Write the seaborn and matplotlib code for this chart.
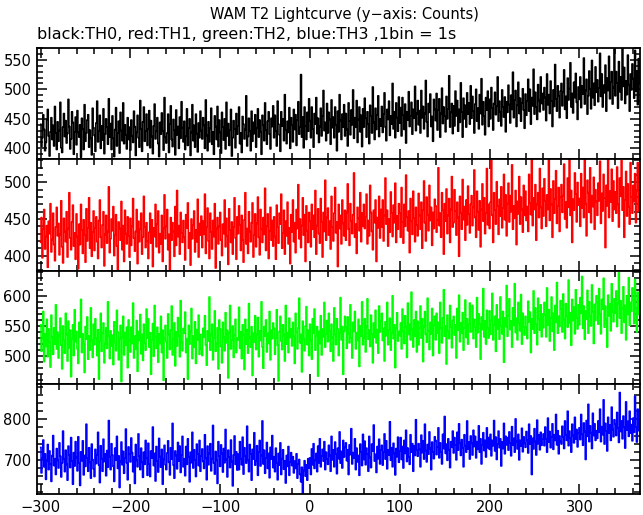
import numpy as np
import pandas as pd
import matplotlib
matplotlib.use("Agg")
import matplotlib.pyplot as plt
from matplotlib.ticker import MultipleLocator
import seaborn as sns

# ---- data (counts per 1 s bin, starting at t = -300 s) ----
t_start = -300
bin_s = 1

th0 = [
441, 403, 418, 457, 432, 396, 410, 449, 466, 421, 387, 428, 452, 415, 439, 404, 471, 426, 398, 445,
412, 430, 478, 401, 393, 436, 459, 420, 447, 409, 425, 483, 437, 399, 416, 462, 444, 390, 428, 453,
406, 464, 427, 419, 440, 385, 451, 433, 398, 474, 412, 426, 448, 457, 402, 431, 417, 389, 468, 435,
422, 395, 443, 480, 411, 429, 456, 400, 438, 414, 467, 391, 424, 450, 436, 407, 484, 419, 442, 398,
455, 417, 386, 432, 469, 404, 426, 446, 392, 461, 430, 413, 477, 408, 440, 423, 399, 452, 415, 436,
397, 448, 421, 410, 463, 437, 388, 427, 456, 418, 402, 481, 433, 395, 445, 470, 412, 429, 458, 405,
433, 464, 401, 447, 420, 391, 438, 475, 416, 429, 452, 408, 386, 444, 424, 460, 430, 397, 486, 419,
409, 426, 458, 393, 441, 472, 415, 403, 449, 431, 389, 465, 423, 437, 400, 453, 417, 479, 435, 411,
446, 398, 421, 467, 405, 434, 450, 388, 427, 474, 413, 439, 402, 458, 425, 394, 443, 418, 463, 430,
416, 452, 439, 400, 482, 422, 396, 445, 411, 434, 468, 407, 428, 390, 455, 437, 415, 471, 403, 448,
427, 392, 461, 436, 414, 450, 399, 478, 421, 442, 405, 431, 466, 387, 418, 447, 433, 401, 459, 424,
438, 470, 408, 426, 393, 454, 441, 416, 432, 489, 404, 420, 451, 429, 396, 463, 412, 444, 425, 457,
402, 435, 467, 419, 448, 428, 390, 456, 439, 413, 477, 431, 407, 446, 462, 424, 399, 451, 437, 472,
418, 456, 429, 404, 480, 441, 423, 395, 462, 438, 450, 413, 491, 431, 408, 446, 427, 469, 400, 452,
440, 411, 466, 432, 457, 405, 448, 479, 424, 436, 525, 419, 453, 401, 470, 438, 415, 461, 429, 484,
447, 418, 470, 433, 402, 459, 441, 486, 425, 451, 410, 437, 468, 421, 455, 498, 430, 444, 413, 476,
426, 461, 449, 407, 482, 435, 453, 418, 470, 440, 396, 463, 428, 491, 447, 415, 458, 436, 474, 421,
459, 432, 404, 477, 446, 423, 465, 440, 499, 417, 452, 436, 481, 410, 449, 470, 428, 456, 403, 467,
436, 485, 451, 419, 462, 441, 408, 473, 455, 426, 504, 444, 415, 468, 432, 457, 489, 420, 450, 438,
471, 427, 458, 494, 436, 413, 466, 449, 480, 422, 455, 441, 510, 433, 462, 418, 477, 452, 429, 487,
443, 469, 421, 486, 456, 432, 475, 409, 462, 448, 496, 437, 455, 478, 424, 466, 451, 505, 430, 459,
481, 440, 464, 426, 498, 452, 471, 433, 459, 515, 445, 420, 476, 461, 492, 437, 454, 412, 483, 466,
447, 493, 431, 465, 484, 419, 459, 502, 442, 470, 455, 428, 488, 450, 467, 523, 436, 461, 476, 425,
472, 438, 497, 455, 481, 429, 466, 444, 511, 462, 419, 485, 450, 473, 436, 494, 458, 477, 441, 506,
451, 488, 463, 426, 475, 500, 446, 468, 433, 491, 459, 518, 440, 479, 455, 423, 486, 465, 497, 437,
483, 450, 503, 468, 431, 476, 495, 457, 472, 521, 446, 480, 462, 438, 499, 470, 453, 487, 428, 479,
461, 507, 474, 443, 490, 466, 529, 452, 482, 498, 437, 473, 512, 459, 485, 446, 477, 501, 465, 434,
492, 456, 480, 517, 463, 500, 441, 486, 472, 534, 458, 495, 470, 449, 508, 481, 462, 521, 476, 493,
465, 503, 486, 447, 526, 474, 491, 459, 514, 480, 437, 499, 471, 542, 484, 463, 506, 489, 452, 497,
510, 472, 495, 533, 466, 488, 451, 519, 482, 501, 545, 470, 493, 460, 512, 486, 527, 478, 449, 504,
483, 521, 469, 506, 492, 553, 475, 498, 517, 458, 489, 531, 501, 467, 549, 486, 510, 473, 538, 495,
516, 479, 502, 561, 488, 526, 470, 507, 494, 541, 463, 519, 498, 556, 484, 512, 530, 475, 503, 568,
489, 530, 511, 468, 547, 496, 521, 482, 572, 505, 537, 476, 514, 491, 558, 508, 463, 526, 499, 543,
518, 485, 566, 497, 531, 474, 552, 509,
]

th1 = [
418, 452, 397, 436, 463, 409, 426, 441, 384, 447, 430, 471, 405, 422, 458, 415, 393, 439, 466, 427,
444, 401, 429, 475, 412, 390, 451, 433, 419, 460, 398, 437, 486, 424, 408, 446, 469, 413, 431, 395,
457, 426, 382, 443, 415, 470, 435, 403, 449, 428, 391, 464, 420, 438, 479, 410, 445, 399, 432, 461,
407, 438, 453, 419, 396, 448, 476, 425, 411, 442, 460, 386, 429, 455, 417, 433, 494, 404, 423, 450,
434, 467, 400, 428, 456, 413, 381, 446, 437, 421, 474, 408, 441, 392, 462, 430, 416, 453, 427, 398,
451, 414, 440, 478, 424, 406, 433, 463, 389, 447, 419, 436, 458, 402, 425, 481, 439, 411, 445, 420,
396, 432, 458, 417, 449, 385, 438, 426, 470, 412, 443, 461, 404, 430, 416, 455, 392, 437, 483, 423,
440, 463, 408, 429, 379, 452, 421, 445, 433, 399, 467, 414, 489, 426, 441, 402, 459, 431, 418, 448,
425, 394, 456, 438, 472, 410, 431, 387, 450, 423, 442, 461, 405, 435, 419, 477, 398, 444, 428, 454,
411, 447, 429, 484, 403, 439, 465, 420, 396, 458, 432, 409, 448, 426, 471, 383, 437, 452, 416, 440,
459, 421, 400, 443, 430, 476, 412, 451, 427, 388, 464, 435, 418, 446, 402, 439, 479, 424, 395, 453,
430, 468, 442, 407, 455, 421, 391, 449, 486, 416, 437, 403, 460, 433, 419, 445, 472, 398, 428, 457,
412, 444, 480, 425, 401, 463, 436, 418, 452, 429, 492, 407, 440, 457, 396, 434, 466, 421, 448, 413,
453, 426, 395, 469, 439, 417, 458, 443, 484, 410, 431, 462, 402, 447, 427, 473, 416, 438, 389, 456,
432, 476, 419, 445, 404, 463, 437, 497, 423, 450, 411, 441, 479, 428, 456, 392, 468, 434, 418, 459,
447, 412, 470, 436, 455, 425, 489, 402, 441, 464, 430, 417, 478, 446, 398, 459, 433, 503, 421, 452,
465, 428, 447, 409, 481, 439, 420, 458, 493, 431, 446, 385, 470, 437, 455, 416, 476, 444, 427, 462,
421, 459, 498, 436, 414, 471, 447, 430, 456, 513, 425, 443, 403, 466, 451, 434, 486, 419, 458, 440,
470, 437, 453, 484, 416, 448, 427, 496, 459, 433, 408, 462, 445, 476, 392, 452, 438, 481, 424, 463,
439, 476, 420, 455, 506, 443, 462, 413, 450, 432, 487, 458, 426, 469, 445, 499, 418, 454, 436, 471,
458, 425, 493, 446, 417, 470, 440, 510, 453, 434, 461, 404, 478, 447, 429, 488, 451, 419, 466, 442,
427, 485, 455, 436, 473, 410, 462, 502, 445, 420, 480, 456, 434, 496, 448, 466, 414, 459, 437, 477,
468, 432, 449, 520, 441, 458, 425, 486, 462, 402, 471, 447, 491, 430, 455, 478, 418, 463, 508, 439,
445, 490, 461, 428, 473, 452, 399, 481, 458, 436, 504, 449, 467, 421, 476, 442, 495, 457, 431, 470,
482, 441, 466, 517, 452, 425, 488, 460, 435, 475, 412, 463, 498, 447, 479, 430, 458, 519, 442, 470,
437, 473, 530, 455, 418, 486, 462, 443, 501, 468, 429, 477, 454, 494, 438, 465, 511, 449, 483, 427,
471, 499, 446, 482, 460, 524, 436, 468, 451, 489, 415, 474, 457, 508, 443, 480, 463, 432, 496, 455,
488, 448, 467, 433, 511, 472, 456, 533, 441, 479, 463, 497, 421, 470, 486, 452, 519, 466, 437, 492,
454, 505, 475, 440, 483, 463, 531, 448, 491, 470, 425, 502, 458, 477, 516, 444, 468, 493, 433, 480,
497, 459, 482, 525, 450, 473, 438, 506, 466, 534, 455, 489, 418, 477, 462, 513, 484, 446, 500, 469,
478, 440, 512, 465, 493, 452, 536, 471, 427, 503, 486, 459, 520, 445, 482, 467, 507, 436, 490, 474,
455, 499, 475, 529, 444, 485, 461, 511, 479, 411, 496, 468, 535, 452, 488, 473, 518, 447, 502, 463,
487, 458, 521, 470, 439, 506, 481, 530, 462, 494, 425, 476, 515, 454, 498, 467, 443, 527, 480, 458,
496, 474, 512, 445, 489, 527, 461, 483,
]

th2 = [
552, 508, 529, 574, 491, 537, 516, 561, 499, 545, 523, 482, 568, 531, 503, 547, 520, 585, 512, 540,
497, 534, 563, 518, 479, 550, 527, 505, 571, 536, 492, 558, 514, 543, 466, 529, 552, 501, 577, 524,
541, 512, 488, 556, 532, 594, 506, 537, 520, 473, 549, 528, 565, 495, 533, 510, 580, 526, 498, 553,
519, 562, 530, 501, 544, 462, 525, 571, 508, 538, 555, 489, 521, 547, 513, 590, 534, 496, 542, 517,
535, 486, 557, 523, 509, 576, 540, 494, 529, 551, 458, 531, 566, 502, 539, 518, 548, 481, 560, 526,
507, 548, 521, 588, 497, 533, 512, 559, 475, 541, 526, 569, 504, 536, 493, 553, 522, 510, 578, 530,
562, 515, 539, 470, 527, 554, 500, 584, 532, 513, 548, 490, 537, 521, 566, 506, 543, 460, 529, 551,
524, 497, 570, 536, 511, 543, 583, 502, 528, 555, 484, 540, 517, 564, 534, 499, 592, 523, 509, 546,
538, 573, 506, 529, 462, 551, 520, 541, 579, 496, 533, 515, 557, 488, 544, 527, 568, 503, 536, 512,
501, 546, 532, 567, 518, 485, 542, 525, 598, 510, 536, 553, 494, 530, 575, 508, 521, 547, 479, 560,
545, 516, 489, 556, 531, 509, 572, 522, 543, 464, 538, 584, 512, 527, 550, 498, 535, 561, 506, 530,
527, 581, 513, 540, 496, 552, 535, 478, 561, 520, 544, 505, 587, 531, 515, 549, 468, 538, 523, 567,
511, 536, 564, 499, 542, 526, 590, 515, 480, 549, 533, 560, 507, 538, 521, 574, 494, 543, 529, 555,
546, 503, 530, 577, 518, 459, 541, 566, 525, 511, 552, 536, 492, 584, 520, 539, 506, 563, 531, 545,
517, 556, 533, 488, 571, 540, 512, 547, 596, 522, 536, 474, 558, 529, 509, 550, 582, 519, 543, 501,
553, 526, 495, 562, 538, 578, 510, 534, 549, 467, 541, 521, 567, 502, 545, 532, 589, 515, 537, 559,
524, 571, 542, 508, 553, 531, 492, 580, 536, 519, 562, 545, 501, 538, 597, 527, 549, 470, 541, 566,
548, 513, 565, 537, 522, 585, 530, 497, 556, 541, 574, 512, 539, 526, 561, 483, 550, 533, 590, 519,
530, 562, 507, 549, 595, 528, 543, 516, 568, 537, 489, 555, 531, 576, 522, 544, 505, 583, 540, 558,
571, 526, 546, 492, 557, 534, 589, 519, 543, 563, 510, 538, 600, 529, 552, 481, 547, 572, 525, 541,
534, 555, 512, 578, 541, 521, 567, 549, 498, 588, 536, 553, 527, 606, 544, 515, 560, 533, 574, 507,
558, 519, 547, 583, 530, 562, 491, 549, 574, 536, 523, 596, 542, 511, 556, 537, 579, 501, 551, 566,
527, 571, 538, 556, 505, 589, 546, 522, 563, 610, 533, 550, 487, 568, 541, 529, 584, 548, 514, 559,
566, 535, 552, 497, 579, 543, 601, 524, 555, 538, 572, 510, 547, 593, 531, 562, 520, 553, 588, 540,
542, 584, 529, 561, 548, 515, 597, 539, 570, 553, 495, 565, 544, 612, 532, 558, 520, 576, 547, 530,
575, 536, 559, 604, 527, 552, 566, 508, 585, 545, 561, 528, 598, 550, 537, 574, 490, 563, 549, 617,
533, 567, 595, 544, 558, 515, 580, 551, 620, 539, 563, 527, 589, 555, 542, 602, 520, 571, 548, 535,
566, 548, 529, 591, 557, 573, 506, 562, 545, 608, 538, 580, 553, 519, 596, 561, 543, 585, 532, 570,
547, 589, 568, 532, 613, 552, 577, 525, 563, 598, 541, 571, 510, 584, 556, 622, 538, 566, 549, 592,
578, 540, 603, 561, 529, 587, 566, 548, 626, 555, 572, 518, 594, 559, 581, 537, 610, 563, 545, 585,
552, 597, 571, 632, 546, 583, 528, 575, 561, 609, 538, 590, 566, 550, 618, 573, 521, 586, 559, 600,
589, 553, 612, 570, 537, 594, 578, 629, 548, 583, 561, 515, 601, 567, 586, 542, 620, 574, 557, 595,
571, 608, 549, 587, 638, 563, 592, 538, 579, 615, 556, 584, 527, 600, 569, 630, 551, 589, 574, 613,
593, 554, 627, 578, 540, 606, 569, 598,
]

th3 = [
731, 668, 704, 749, 683, 715, 652, 697, 738, 676, 722, 690, 647, 711, 760, 686, 703, 664, 728, 699,
680, 742, 709, 658, 693, 771, 702, 671, 724, 689, 650, 734, 712, 681, 755, 697, 640, 718, 685, 745,
706, 673, 757, 692, 637, 720, 698, 747, 663, 711, 684, 788, 705, 672, 730, 694, 655, 739, 701, 678,
659, 726, 691, 713, 768, 687, 644, 735, 703, 672, 751, 696, 715, 661, 723, 682, 797, 708, 676, 740,
712, 684, 647, 729, 700, 758, 679, 710, 632, 696, 744, 688, 721, 667, 705, 776, 693, 651, 732, 714,
695, 754, 718, 671, 707, 642, 738, 699, 683, 764, 710, 676, 729, 694, 657, 719, 689, 748, 704, 662,
741, 690, 659, 722, 705, 781, 686, 716, 648, 733, 697, 670, 753, 708, 682, 726, 640, 701, 736, 688,
676, 717, 747, 694, 663, 730, 702, 790, 687, 655, 722, 711, 678, 743, 697, 734, 669, 712, 758, 683,
703, 661, 733, 689, 752, 708, 646, 719, 693, 768, 680, 725, 700, 659, 739, 715, 686, 748, 672, 709,
727, 696, 679, 762, 704, 651, 734, 688, 716, 740, 673, 703, 785, 692, 665, 721, 699, 642, 745, 710,
684, 737, 716, 670, 728, 693, 775, 701, 658, 724, 707, 681, 749, 696, 636, 712, 759, 689, 720, 675,
714, 676, 745, 703, 688, 756, 665, 730, 709, 692, 783, 699, 671, 738, 715, 650, 726, 702, 767, 687,
698, 735, 662, 719, 748, 685, 711, 796, 690, 724, 667, 705, 743, 679, 716, 656, 731, 702, 760, 681,
708, 671, 729, 693, 651, 716, 687, 742, 664, 703, 725, 677, 698, 643, 711, 684, 733, 662, 695, 718,
686, 708, 668, 697, 679, 715, 655, 690, 701, 664, 646, 682, 616, 674, 698, 660, 688, 650, 703, 680,
705, 664, 727, 688, 740, 679, 699, 716, 671, 734, 693, 752, 683, 710, 726, 697, 745, 676, 719, 702,
689, 736, 711, 672, 758, 700, 725, 683, 744, 715, 666, 729, 703, 769, 692, 721, 680, 748, 707, 731,
742, 698, 725, 664, 737, 713, 777, 690, 718, 704, 752, 676, 729, 695, 711, 662, 739, 720, 686, 763,
701, 746, 688, 729, 715, 672, 758, 706, 681, 739, 722, 786, 697, 714, 669, 733, 703, 751, 690, 724,
736, 687, 719, 764, 702, 747, 678, 725, 712, 794, 699, 730, 683, 741, 716, 663, 728, 708, 756, 694,
722, 755, 701, 733, 680, 748, 716, 773, 696, 729, 707, 689, 762, 719, 740, 672, 735, 711, 799, 725,
709, 740, 726, 683, 761, 718, 747, 702, 788, 723, 695, 738, 714, 769, 728, 676, 744, 720, 703, 757,
748, 713, 732, 779, 705, 742, 720, 690, 763, 728, 807, 716, 739, 699, 752, 725, 681, 745, 731, 771,
717, 755, 737, 700, 768, 724, 789, 741, 711, 750, 729, 683, 762, 735, 719, 796, 727, 744, 702, 759,
741, 712, 773, 733, 758, 705, 745, 726, 784, 719, 752, 690, 737, 767, 723, 748, 707, 779, 730, 755,
726, 763, 710, 748, 735, 797, 722, 756, 701, 739, 771, 730, 752, 685, 744, 728, 790, 715, 758, 737,
755, 724, 769, 741, 710, 782, 736, 753, 719, 801, 745, 727, 763, 700, 748, 734, 778, 720, 757, 741,
731, 770, 748, 717, 788, 739, 759, 664, 753, 727, 777, 745, 712, 798, 740, 762, 725, 768, 736, 751,
764, 735, 781, 752, 719, 803, 744, 770, 730, 757, 789, 726, 762, 748, 812, 737, 772, 715, 759, 745,
739, 783, 757, 728, 796, 762, 748, 820, 735, 771, 754, 719, 788, 760, 742, 805, 751, 775, 732, 766,
779, 750, 812, 763, 736, 791, 770, 701, 797, 758, 837, 745, 784, 767, 728, 815, 760, 789, 748, 772,
753, 796, 768, 825, 745, 782, 762, 848, 739, 790, 771, 722, 805, 766, 786, 748, 830, 775, 757, 799,
788, 760, 817, 778, 743, 866, 770, 796, 752, 808, 781, 729, 843, 774, 795, 758, 820, 766, 787, 747,
803, 768, 857, 781, 744, 825, 772, 796,
]

series_names = ["TH0", "TH1", "TH2", "TH3"]
series_colors = ["black", "#ff0000", "#00ff00", "#0000ff"]
x_ticks = [-300, -200, -100, 0, 100, 200, 300]

title = "WAM T2 Lightcurve (y\u2212axis: Counts)"
subtitle = "black:TH0, red:TH1, green:TH2, blue:TH3 ,1bin = 1s"

# ---- figure ----
sns.set_style("ticks")
plt.rcParams["font.family"] = ["DejaVu Sans"]
plt.rcParams["axes.linewidth"] = 1.3
plt.rcParams["text.color"] = "black"
plt.rcParams["xtick.color"] = "black"
plt.rcParams["ytick.color"] = "black"
plt.rcParams["xtick.labelcolor"] = "black"
plt.rcParams["ytick.labelcolor"] = "black"

W, H = 643, 515
fig = plt.figure(figsize=(W / 100, H / 100), dpi=100)

left_px, right_px = 37, 640
bounds_px = [48, 159, 271, 384, 494]
ylims = [(382, 570), (379, 532), (454, 641), (616, 887)]
ymajor = [50, 50, 50, 100]
yminor = [10, 10, 10, 20]
all_data = [th0, th1, th2, th3]

axes = []
for i, (vals, color) in enumerate(zip(all_data, series_colors)):
    top, bot = bounds_px[i], bounds_px[i + 1]
    ax = fig.add_axes([left_px / W, 1 - bot / H, (right_px - left_px) / W, (bot - top) / H])
    t = t_start + bin_s * np.arange(len(vals))
    df = pd.DataFrame({"time": t, "counts": vals})
    sns.lineplot(data=df, x="time", y="counts", ax=ax, color=color, lw=1.15,
                 drawstyle="steps-mid", estimator=None, errorbar=None)
    ax.set_xlim(-304, 367.5)
    ax.set_ylim(*ylims[i])
    ax.set_xlabel("")
    ax.set_ylabel("")
    ax.xaxis.set_major_locator(MultipleLocator(100))
    ax.xaxis.set_minor_locator(MultipleLocator(20))
    ax.yaxis.set_major_locator(MultipleLocator(ymajor[i]))
    ax.yaxis.set_minor_locator(MultipleLocator(yminor[i]))
    ax.tick_params(which="both", direction="in", top=True, right=True,
                   bottom=True, left=True, labelsize=10.5, width=1.1,
                   colors="black", labelcolor="black")
    ax.tick_params(which="major", length=7, pad=4)
    ax.tick_params(which="minor", length=4)
    if i < 3:
        ax.tick_params(labelbottom=False)
    for s in ax.spines.values():
        s.set_visible(True)
        s.set_color("black")
    axes.append(ax)

axes[-1].set_xticks(x_ticks)

fig.text(0.5 * (left_px + right_px) / W + 6 / W, 1 - 15 / H, title,
         ha="center", va="center", fontsize=10.5, color="black")
fig.text(left_px / W, 1 - 34 / H, subtitle, ha="left", va="center",
         fontsize=11.5, color="black")

fig.savefig("out.png", dpi=100, facecolor="white")
